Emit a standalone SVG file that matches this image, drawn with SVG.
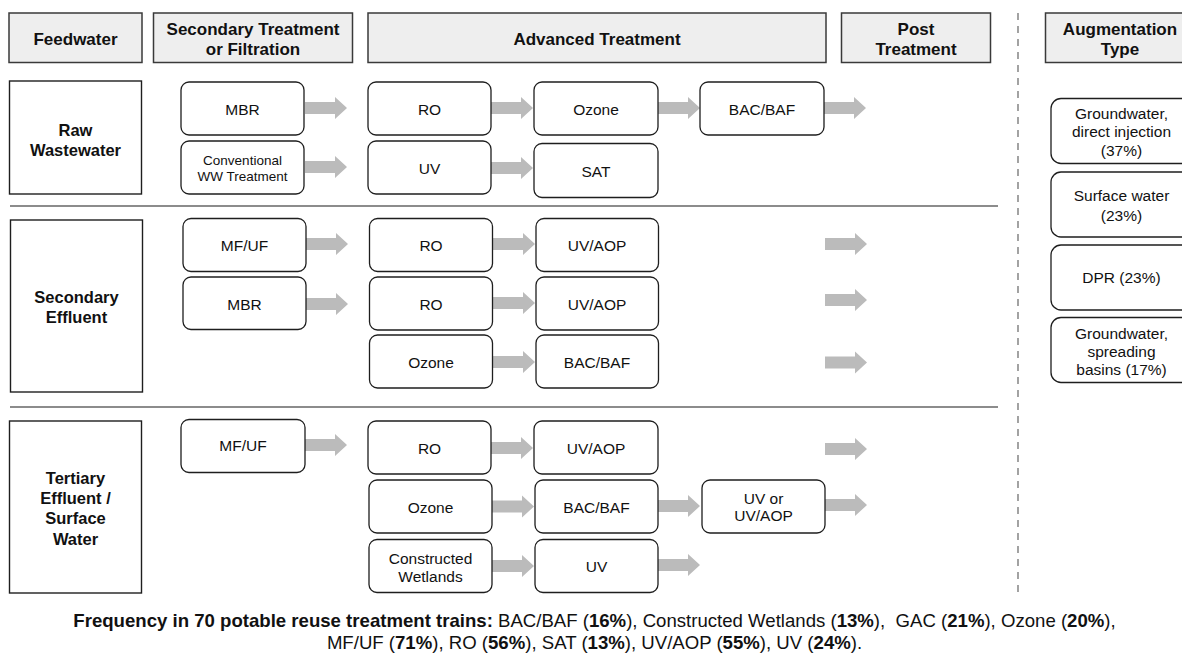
<svg xmlns="http://www.w3.org/2000/svg" xmlns:xlink="http://www.w3.org/1999/xlink" width="1182" height="654" viewBox="0 0 1182 654">
<defs>
<style>
.hdr{fill:#eeeeee;stroke:#3a3a3a;stroke-width:1.5}
.feed{fill:#ffffff;stroke:#1e1e1e;stroke-width:1.4}
.node{fill:#ffffff;stroke:#1e1e1e;stroke-width:1.3}
.sep{stroke:#8c8c8c;stroke-width:2}
.dash{stroke:#8c8c8c;stroke-width:1.6;stroke-dasharray:7 6}
.arr{fill:#bbbbbb}
text{font-family:"Liberation Sans",Arial,Helvetica,sans-serif;fill:#111111;text-anchor:middle}
.th{font-size:17px;font-weight:bold}
.tf{font-size:16.5px;font-weight:bold}
.tn{font-size:15.5px}
.ts{font-size:13.5px}
.tfoot{font-size:18.6px;white-space:pre}
.b{font-weight:bold}
</style>
<path id="arrow" d="M0,-6 H30 V-11 L42,0 L30,11 V6 H0 Z"/>
</defs>

<g id="separators">
<line class="sep" x1="10" y1="206" x2="998" y2="206"/>
<line class="sep" x1="10" y1="407" x2="998" y2="407"/>
<line class="dash" x1="1018" y1="13" x2="1018" y2="596"/>
</g>

<g id="header-feedwater"><rect class="hdr" x="9" y="13" width="133" height="49.5"/><text class="th" x="75.5" y="44.5">Feedwater</text></g>
<g id="header-secondary"><rect class="hdr" x="153.5" y="13" width="199" height="49.5"/><text class="th" x="253" y="35">Secondary Treatment</text><text class="th" x="253" y="55">or Filtration</text></g>
<g id="header-advanced"><rect class="hdr" x="368" y="13" width="458" height="49.5"/><text class="th" x="597" y="44.5">Advanced Treatment</text></g>
<g id="header-post"><rect class="hdr" x="841.5" y="13" width="149" height="49.5"/><text class="th" x="916" y="35">Post</text><text class="th" x="916" y="55">Treatment</text></g>
<g id="header-augmentation"><rect class="hdr" x="1045.5" y="13" width="150" height="49.5"/><text class="th" x="1120" y="35">Augmentation</text><text class="th" x="1120" y="55">Type</text></g>

<g id="feed-raw"><rect class="feed" x="9.5" y="81" width="132" height="113"/><text class="tf" x="75.5" y="136">Raw</text><text class="tf" x="75.5" y="156">Wastewater</text></g>
<g id="feed-secondary"><rect class="feed" x="10.5" y="220" width="132" height="172"/><text class="tf" x="76.5" y="302.5">Secondary</text><text class="tf" x="76.5" y="323">Effluent</text></g>
<g id="feed-tertiary"><rect class="feed" x="9.5" y="421" width="132" height="172"/><text class="tf" x="75.5" y="483.5">Tertiary</text><text class="tf" x="75.5" y="503.5">Effluent /</text><text class="tf" x="75.5" y="524">Surface</text><text class="tf" x="75.5" y="544.5">Water</text></g>

<g id="connectors" class="arr">
<use xlink:href="#arrow" href="#arrow" x="305" y="108"/>
<use xlink:href="#arrow" href="#arrow" x="305" y="167"/>
<use xlink:href="#arrow" href="#arrow" x="491" y="108"/>
<use xlink:href="#arrow" href="#arrow" x="658" y="108"/>
<use xlink:href="#arrow" href="#arrow" x="824" y="108"/>
<use xlink:href="#arrow" href="#arrow" x="491" y="168"/>
<use xlink:href="#arrow" href="#arrow" x="306" y="244"/>
<use xlink:href="#arrow" href="#arrow" x="306" y="304"/>
<use xlink:href="#arrow" href="#arrow" x="493" y="244"/>
<use xlink:href="#arrow" href="#arrow" x="493" y="303"/>
<use xlink:href="#arrow" href="#arrow" x="493" y="362"/>
<use xlink:href="#arrow" href="#arrow" x="825" y="244"/>
<use xlink:href="#arrow" href="#arrow" x="825" y="300"/>
<use xlink:href="#arrow" href="#arrow" x="825" y="362.5"/>
<use xlink:href="#arrow" href="#arrow" x="305" y="445"/>
<use xlink:href="#arrow" href="#arrow" x="491" y="448"/>
<use xlink:href="#arrow" href="#arrow" x="825" y="449"/>
<use xlink:href="#arrow" href="#arrow" x="492" y="506.5"/>
<use xlink:href="#arrow" href="#arrow" x="658" y="506"/>
<use xlink:href="#arrow" href="#arrow" x="825" y="505"/>
<use xlink:href="#arrow" href="#arrow" x="492" y="566"/>
<use xlink:href="#arrow" href="#arrow" x="658" y="565"/>
</g>

<g id="n-raw-mbr"><rect class="node" x="181" y="82" width="123" height="53" rx="8"/><text class="tn" x="242.5" y="114.5">MBR</text></g>
<g id="n-raw-conv"><rect class="node" x="181" y="141" width="123" height="53" rx="8"/><text class="ts" x="242.5" y="165">Conventional</text><text class="ts" x="242.5" y="181">WW Treatment</text></g>
<g id="n-raw-ro"><rect class="node" x="368" y="82" width="123" height="53" rx="8"/><text class="tn" x="429.5" y="114.5">RO</text></g>
<g id="n-raw-ozone"><rect class="node" x="534" y="82" width="124" height="53" rx="8"/><text class="tn" x="596" y="114.5">Ozone</text></g>
<g id="n-raw-bac"><rect class="node" x="700" y="82" width="124" height="53" rx="8"/><text class="tn" x="762" y="114.5">BAC/BAF</text></g>
<g id="n-raw-uv"><rect class="node" x="368" y="141" width="123" height="53" rx="8"/><text class="tn" x="429.5" y="173.5">UV</text></g>
<g id="n-raw-sat"><rect class="node" x="534" y="143.5" width="124" height="54" rx="8"/><text class="tn" x="596" y="176.5">SAT</text></g>

<g id="n-sec-mfuf"><rect class="node" x="183" y="218.5" width="123" height="53" rx="8"/><text class="tn" x="244.5" y="250.5">MF/UF</text></g>
<g id="n-sec-mbr"><rect class="node" x="183" y="277" width="123" height="52.5" rx="8"/><text class="tn" x="244.5" y="309.5">MBR</text></g>
<g id="n-sec-ro1"><rect class="node" x="369.5" y="218.5" width="123" height="53" rx="8"/><text class="tn" x="431" y="250.5">RO</text></g>
<g id="n-sec-uvaop1"><rect class="node" x="536" y="218.5" width="122.5" height="53" rx="8"/><text class="tn" x="597" y="250.5">UV/AOP</text></g>
<g id="n-sec-ro2"><rect class="node" x="369.5" y="277" width="123" height="53" rx="8"/><text class="tn" x="431" y="309.5">RO</text></g>
<g id="n-sec-uvaop2"><rect class="node" x="536" y="277" width="122.5" height="53" rx="8"/><text class="tn" x="597" y="309.5">UV/AOP</text></g>
<g id="n-sec-ozone"><rect class="node" x="369.5" y="335" width="123" height="53" rx="8"/><text class="tn" x="431" y="368">Ozone</text></g>
<g id="n-sec-bac"><rect class="node" x="536" y="335" width="122.5" height="53" rx="8"/><text class="tn" x="597" y="368">BAC/BAF</text></g>

<g id="n-ter-mfuf"><rect class="node" x="181" y="419.5" width="124" height="53" rx="8"/><text class="tn" x="243" y="450.5">MF/UF</text></g>
<g id="n-ter-ro"><rect class="node" x="368" y="421" width="123" height="53" rx="8"/><text class="tn" x="429.5" y="454">RO</text></g>
<g id="n-ter-uvaop"><rect class="node" x="534" y="421" width="124" height="53" rx="8"/><text class="tn" x="596" y="454">UV/AOP</text></g>
<g id="n-ter-ozone"><rect class="node" x="369" y="480" width="123" height="53" rx="8"/><text class="tn" x="430.5" y="513">Ozone</text></g>
<g id="n-ter-bac"><rect class="node" x="535" y="480" width="123" height="53" rx="8"/><text class="tn" x="596.5" y="513">BAC/BAF</text></g>
<g id="n-ter-uvor"><rect class="node" x="702" y="480" width="123" height="53" rx="8"/><text class="tn" x="763.5" y="504">UV or</text><text class="tn" x="763.5" y="521">UV/AOP</text></g>
<g id="n-ter-cw"><rect class="node" x="369" y="539.5" width="123" height="53" rx="8"/><text class="tn" x="430.5" y="564">Constructed</text><text class="tn" x="430.5" y="581.5">Wetlands</text></g>
<g id="n-ter-uv"><rect class="node" x="535" y="539.5" width="123" height="53" rx="8"/><text class="tn" x="596.5" y="572">UV</text></g>

<g id="aug-gw-inj"><rect class="node" x="1051" y="98.5" width="145" height="65" rx="10"/><text class="tn" x="1121.5" y="118.5">Groundwater,</text><text class="tn" x="1121.5" y="137">direct injection</text><text class="tn" x="1121.5" y="155.5">(37%)</text></g>
<g id="aug-surface"><rect class="node" x="1051" y="172" width="145" height="65" rx="10"/><text class="tn" x="1121.5" y="201">Surface water</text><text class="tn" x="1121.5" y="220.5">(23%)</text></g>
<g id="aug-dpr"><rect class="node" x="1051" y="245" width="145" height="65" rx="10"/><text class="tn" x="1121.5" y="282.5">DPR (23%)</text></g>
<g id="aug-gw-spread"><rect class="node" x="1051" y="317.5" width="145" height="65" rx="10"/><text class="tn" x="1121.5" y="338.5">Groundwater,</text><text class="tn" x="1121.5" y="357">spreading</text><text class="tn" x="1121.5" y="375">basins (17%)</text></g>

<g id="footer">
<text class="tfoot" x="594.5" y="627" xml:space="preserve"><tspan class="b">Frequency in 70 potable reuse treatment trains:</tspan> BAC/BAF (<tspan class="b">16%</tspan>), Constructed Wetlands (<tspan class="b">13%</tspan>),  GAC (<tspan class="b">21%</tspan>), Ozone (<tspan class="b">20%</tspan>),</text>
<text class="tfoot" x="594.5" y="649" xml:space="preserve">MF/UF (<tspan class="b">71%</tspan>), RO (<tspan class="b">56%</tspan>), SAT (<tspan class="b">13%</tspan>), UV/AOP (<tspan class="b">55%</tspan>), UV (<tspan class="b">24%</tspan>).</text>
</g>
</svg>
